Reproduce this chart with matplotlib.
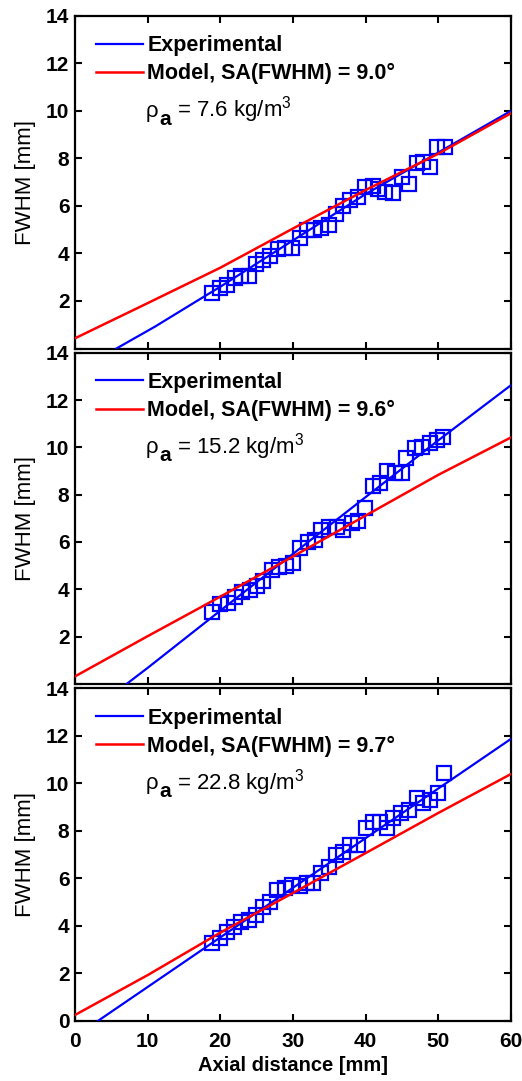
import numpy as np
import matplotlib
matplotlib.use("Agg")
import matplotlib.pyplot as plt

plt.rcParams['font.family'] = ['Liberation Sans', 'DejaVu Sans']
plt.rcParams['mathtext.fontset'] = 'custom'
plt.rcParams['mathtext.rm'] = 'Liberation Sans'
plt.rcParams['mathtext.bf'] = 'Liberation Sans:bold'
plt.rcParams['mathtext.it'] = 'Liberation Sans:italic'

# measured FWHM (squares), one array per panel
x_top = [18.9, 20.0, 20.9, 22.0, 22.9, 23.9, 24.9, 25.9, 26.9, 28.0, 28.9, 29.9, 30.9, 31.9, 32.9, 33.9, 34.9,
         35.9, 36.9, 37.8, 38.9, 39.9, 41.0, 41.7, 42.7, 43.8, 45.0, 45.9, 47.0, 47.9, 48.9, 49.8, 50.9]
y_top = [2.33, 2.56, 2.69, 2.98, 3.04, 3.04, 3.57, 3.71, 3.88, 4.20, 4.25, 4.25, 4.67, 4.98, 4.98, 5.05, 5.19,
         5.68, 5.99, 6.24, 6.39, 6.78, 6.85, 6.71, 6.60, 6.55, 7.23, 6.92, 7.79, 7.83, 7.62, 8.47, 8.47]

x_mid = [18.9, 20.0, 21.0, 22.0, 23.0, 24.1, 25.0, 25.9, 27.1, 28.1, 29.0, 30.0, 31.0, 32.0, 33.0, 33.9, 35.0,
         36.0, 36.9, 38.1, 39.0, 39.9, 41.0, 42.0, 42.9, 44.0, 45.0, 45.6, 46.8, 47.7, 48.8, 49.8, 50.7]
y_mid = [3.03, 3.37, 3.41, 3.67, 3.88, 3.98, 4.12, 4.37, 4.82, 4.93, 4.99, 5.10, 5.74, 5.98, 6.09, 6.51, 6.65,
         6.65, 6.51, 6.80, 6.87, 7.43, 8.35, 8.49, 8.98, 8.91, 8.91, 9.55, 9.97, 10.01, 10.18, 10.32, 10.44]

x_bot = [18.9, 19.95, 20.9, 21.9, 22.9, 23.9, 24.9, 25.9, 26.8, 27.8, 28.9, 29.8, 30.9, 31.9, 32.8, 33.9, 34.9,
         35.9, 36.9, 37.9, 39.0, 40.0, 41.0, 42.0, 43.0, 43.8, 44.9, 45.9, 47.0, 47.9, 48.9, 49.9, 50.8]
y_bot = [3.26, 3.47, 3.75, 3.96, 4.17, 4.24, 4.45, 4.80, 5.01, 5.50, 5.58, 5.72, 5.67, 5.81, 5.81, 6.23, 6.49,
         6.98, 7.12, 7.40, 7.40, 8.10, 8.38, 8.38, 8.10, 8.53, 8.74, 8.88, 9.37, 9.16, 9.30, 9.58, 10.42]

# experimental fit lines (blue)
xe_top = [5.7, 8, 11, 16.5, 20, 30, 40, 50, 60]
ye_top = [0.0, 0.40, 0.92, 1.95, 2.6, 4.55, 6.5, 8.25, 10.0]
xe_mid = [7.1, 10, 20, 30, 40, 50, 60]
ye_mid = [0.0, 0.68, 3.10, 5.50, 7.90, 10.30, 12.63]
xe_bot = [3.2, 10, 20, 30, 40, 50, 60]
ye_bot = [0.0, 1.42, 3.51, 5.60, 7.69, 9.78, 11.87]

# model lines (red)
xm = [0, 10, 20, 30, 40, 50, 60]
ym_top = [0.43, 1.91, 3.40, 5.05, 6.67, 8.20, 9.90]
ym_mid = [0.32, 2.02, 3.69, 5.39, 7.12, 8.84, 10.42]
ym_bot = [0.24, 1.92, 3.71, 5.38, 7.06, 8.75, 10.39]

sa_labels = ['9.0', '9.6', '9.7']
rho_labels = ['7.6', '15.2', '22.8']

yticks = [0, 2, 4, 6, 8, 10, 12, 14]
xticks = [0, 10, 20, 30, 40, 50, 60]

fig = plt.figure(figsize=(5.22, 10.81), dpi=100)
left, width = 0.1437, 0.8353
boxes = [(0.6776, 0.3078), (0.3673, 0.3064), (0.0558, 0.3075)]

panels = [(x_top, y_top, xe_top, ye_top, ym_top),
          (x_mid, y_mid, xe_mid, ye_mid, ym_mid),
          (x_bot, y_bot, xe_bot, ye_bot, ym_bot)]

for i, (xs, ys, xe, ye, ym) in enumerate(panels):
    b, h = boxes[i]
    ax = fig.add_axes([left, b, width, h])
    ax.plot(xs, ys, 's', mfc='none', mec='#0000ff', ms=9.5, mew=1.6, zorder=2)
    l1, = ax.plot(xe, ye, '-', color='#0000ff', lw=1.6, zorder=3)
    l2, = ax.plot(xm, ym, '-', color='#ff0000', lw=1.8, zorder=4)
    ax.set_xlim(0, 60)
    ax.set_ylim(0, 14)
    ylabs = [str(t) for t in yticks]
    if i < 2:
        ylabs[0] = ''
    ax.set_yticks(yticks, ylabs, fontweight='bold', fontsize=15)
    if i == 2:
        ax.set_xticks(xticks, [str(t) for t in xticks], fontweight='bold', fontsize=15)
        ax.set_xlabel('Axial distance [mm]', fontweight='bold', fontsize=14.5, labelpad=4)
    else:
        ax.set_xticks(xticks, [''] * len(xticks))
    ax.set_ylabel('FWHM [mm]', fontsize=16, labelpad=7)
    ax.tick_params(direction='in', length=5, width=1.5, top=True, right=True, pad=4)
    ax.tick_params(axis='x', pad=8)
    for s in ax.spines.values():
        s.set_linewidth(1.6)
    ax.legend([l1, l2], ['Experimental', 'Model, SA(FWHM) = ' + sa_labels[i] + '°'],
              loc='upper left', frameon=False, prop={'weight': 'bold', 'size': 15.5},
              handlelength=2.2, handletextpad=0.2, labelspacing=0.33,
              borderaxespad=0.0, bbox_to_anchor=(0.028, 0.968))
    # rho_a label: full-size bold subscript, as in the original
    t1 = ax.text(0.163, 0.696, 'ρ', transform=ax.transAxes, fontsize=16, va='baseline', ha='left')
    t2 = ax.annotate('a', xy=(1, 0.696), xycoords=(t1, ax.transAxes), xytext=(0.3, -5.5),
                     textcoords='offset points', fontsize=15, fontweight='bold', va='baseline', ha='left')
    ax.annotate(' = ' + rho_labels[i] + r' kg/m$^{3}$', xy=(1, 0.696), xycoords=(t2, ax.transAxes),
                xytext=(0, 0), textcoords='offset points', fontsize=16, va='baseline', ha='left')

fig.savefig('out.png', dpi=100)
